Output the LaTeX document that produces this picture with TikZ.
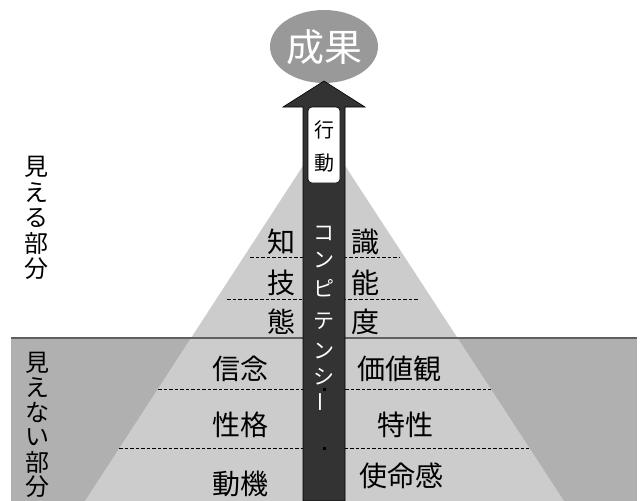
\documentclass[tikz,border=0pt]{standalone}
\usepackage{fontspec}
\usepackage{graphicx}
\setmainfont{Noto Sans CJK JP}
\definecolor{ellgray}{HTML}{999999}
\definecolor{pyrgray}{HTML}{CCCCCC}
\definecolor{lowgray}{HTML}{B0B0B0}
\definecolor{linegray}{HTML}{606060}
\definecolor{shaftgray}{HTML}{333333}
\tikzset{
  pyrtext/.style={font=\fontsize{28}{28}\selectfont, inner sep=0pt, text=black},
  sidetext/.style={font=\fontsize{24}{24}\selectfont, inner sep=0pt, text=black},
  shafttext/.style={font=\fontsize{21}{21}\selectfont, inner sep=0pt, text=white},
  acttext/.style={font=\fontsize{20}{20}\selectfont, inner sep=0pt, text=black},
  divline/.style={dashed, dash pattern=on 3.5pt off 2pt, line width=0.8pt, black},
}
\begin{document}
\begin{tikzpicture}[x=1pt,y=-1pt]
\useasboundingbox (0,0) rectangle (641,501);
% lower (invisible) region
\fill[lowgray] (11,338) rectangle (637,501);
% pyramid
\fill[pyrgray] (324,133.5) -- (85,501) -- (564,501) -- cycle;
% boundary line
\draw[linegray, line width=2pt] (11,338) -- (637,338);
% dashed lines
\draw[divline] (250,257) -- (400,257);
\draw[divline] (227,299) -- (418,299);
\draw[divline] (158,389) -- (491,389);
\draw[divline] (119,448) -- (529,448);
% result ellipse
\fill[ellgray] (324,46.5) ellipse [x radius=54, y radius=36.5];
\node[font=\fontsize{38}{38}\selectfont, text=white, inner sep=0pt] (seika) at (324,47) {成果};
% arrow shaft
\draw[fill=shaftgray, draw=black, line width=0.6pt]
  (303,501) -- (303,107) -- (283,107) -- (324,81) -- (365,107) -- (345,107) -- (345,501) -- cycle;
% small marks on shaft
\fill[black] (322.5,387.5) rectangle (325.5,390.5);
\fill[black] (322.5,446.5) rectangle (325.5,449.5);
% action box
\draw[fill=white, draw=black, line width=0.6pt, rounded corners=4pt] (308,107) rectangle (340,183);
\node[acttext] (act1) at (324,130) {行};
\node[acttext] (act2) at (324,163) {動};
% competency vertical text
\foreach \ch/\yy [count=\i] in {コ/233, ン/260, ピ/288, テ/321, ン/351, シ/377} {
  \node[shafttext] (comp\i) at (324,\yy) {\ch};
}
\node[shafttext] (comp7) at (324,402) {\rotatebox[origin=c]{90}{ー}};
% pyramid texts
\node[pyrtext] (chi) at (281,242) {知};
\node[pyrtext] (shiki) at (365,242) {識};
\node[pyrtext] (gi) at (281,283) {技};
\node[pyrtext] (nou) at (365,283) {能};
\node[pyrtext] (tai) at (281,322) {態};
\node[pyrtext] (do) at (365,322) {度};
\node[pyrtext] (shinnen) at (240,369) {信念};
\node[pyrtext] (kachikan) at (399,369) {価値観};
\node[pyrtext] (seikaku) at (240,425) {性格};
\node[pyrtext] (tokusei) at (405,425) {特性};
\node[pyrtext] (douki) at (240,484) {動機};
\node[pyrtext] (shimei) at (401,476) {使命感};
% side labels
\foreach \ch [count=\i from 0] in {見,え,る,部,分} {
  \node[sidetext] (vis\i) at (36,{167+25.5*\i}) {\ch};
}
\foreach \ch [count=\i from 0] in {見,え,な,い,部,分} {
  \node[sidetext] (invis\i) at (37,{363+24.8*\i}) {\ch};
}
\end{tikzpicture}
\end{document}
